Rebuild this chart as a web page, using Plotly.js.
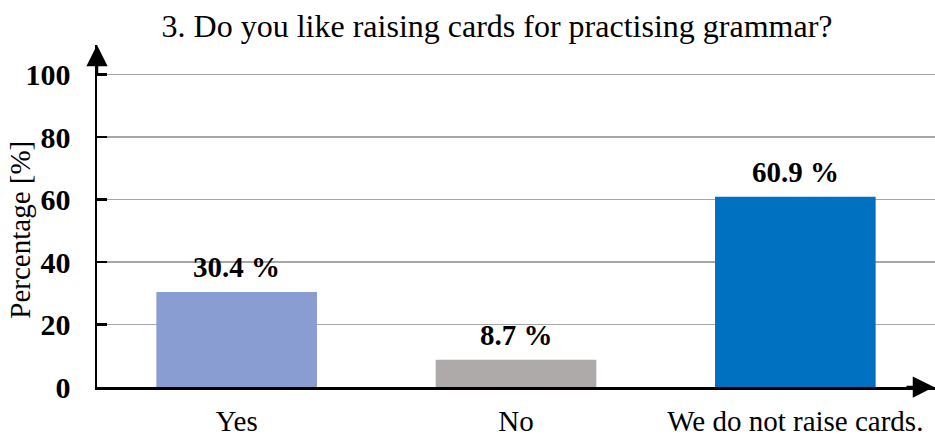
<!DOCTYPE html>
<html>
<head>
<meta charset="utf-8">
<script src="https://cdn.plot.ly/plotly-3.0.1.min.js"></script>
<style>html,body{margin:0;padding:0;background:#fff;}#chart{width:935px;height:436px;}</style>
</head>
<body>
<div id="chart"></div>
<script>
const categories = ["Yes", "No", "We do not raise cards."];
const values = [30.4, 8.7, 60.9];
const valueLabels = ["30.4 %", "8.7 %", "60.9 %"];
const barColors = ["#8A9DD3", "#ADAAA9", "#0070C0"];
const yTicks = [0, 20, 40, 60, 80, 100];

const FONT = "'Liberation Serif', 'Times New Roman', serif";

const trace = {
  type: "bar",
  x: categories,
  y: values,
  width: 0.575,
  marker: { color: barColors, line: { width: 0 } },
  hoverinfo: "none"
};

const labelAnns = categories.map((c, i) => ({
  x: c, y: values[i], xref: "x", yref: "y",
  text: valueLabels[i], showarrow: false,
  yanchor: "bottom", yshift: 7,
  font: { family: FONT, size: 29, color: "#000", weight: "bold" }
}));

const arrowAnns = [
  { xref: "paper", yref: "paper", x: 0, y: 1, ax: 0, ay: 30, axref: "pixel", ayref: "pixel",
    showarrow: true, arrowhead: 2, arrowsize: 1.7, arrowwidth: 2.5, arrowcolor: "#000", text: "" },
  { xref: "paper", yref: "paper", x: 1, y: 0, ax: -30, ay: 0, axref: "pixel", ayref: "pixel",
    showarrow: true, arrowhead: 2, arrowsize: 1.7, arrowwidth: 2.5, arrowcolor: "#000", text: "" },
  { xref: "paper", yref: "paper", x: 0, y: 0.46, xshift: -77, xanchor: "center", yanchor: "middle",
    textangle: -90, showarrow: false, text: "Percentage [%]",
    font: { family: FONT, size: 29, color: "#000" } }
];

const layout = {
  width: 935, height: 436,
  margin: { l: 97, r: 0, t: 45, b: 49 },
  paper_bgcolor: "#fff", plot_bgcolor: "#fff",
  showlegend: false,
  title: {
    text: "3. Do you like raising cards for practising grammar?",
    font: { family: FONT, size: 32, color: "#000" },
    x: 0.5316, xanchor: "center", xref: "container",
    y: 0.94, yanchor: "middle", yref: "container"
  },
  xaxis: {
    type: "category",
    range: [-0.5, 2.5],
    showline: true, linecolor: "#000", linewidth: 2.5,
    showgrid: false, zeroline: false, ticks: "",
    tickfont: { family: FONT, size: 29, color: "#000" },
    ticklabelstandoff: 7,
    fixedrange: true
  },
  yaxis: {
    range: [0, 109.5],
    tickvals: yTicks,
    ticktext: yTicks.map(String),
    showline: true, linecolor: "#000", linewidth: 2.5,
    showgrid: true, gridcolor: "#A6A6A6", gridwidth: 1.5,
    zeroline: false,
    ticks: "inside", ticklen: 10, tickwidth: 2.5, tickcolor: "#000",
    tickfont: { family: FONT, size: 30, color: "#000", weight: "bold" },
    ticklabelstandoff: 18,
    fixedrange: true
  },
  annotations: labelAnns.concat(arrowAnns)
};

Plotly.newPlot("chart", [trace], layout, { displayModeBar: false, staticPlot: true });
</script>
</body>
</html>
